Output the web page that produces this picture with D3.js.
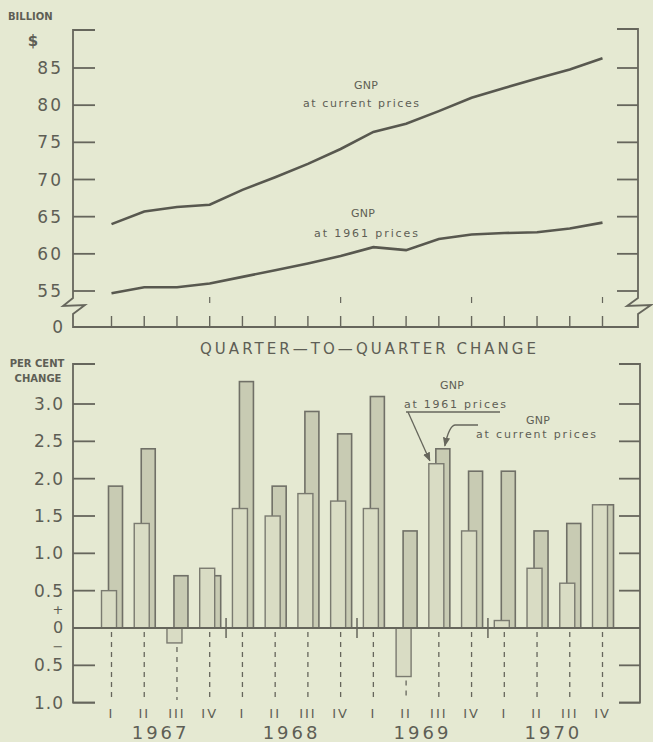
<!DOCTYPE html>
<html><head><meta charset="utf-8">
<script src="https://cdn.jsdelivr.net/npm/d3@7"></script>
<style>
html,body{margin:0;padding:0;background:#e5e9d2;}
svg{display:block;font-family:"DejaVu Sans",sans-serif;}
</style></head>
<body>
<script>
// ---- data ----
const quarterLabels = ["I","II","III","IV","I","II","III","IV","I","II","III","IV","I","II","III","IV"];
const years = ["1967","1968","1969","1970"];
const gnpCurrent = [64.0, 65.7, 66.3, 66.6, 68.6, 70.3, 72.1, 74.1, 76.4, 77.5, 79.2, 81.0, 82.3, 83.6, 84.8, 86.3];
const gnp1961    = [54.7, 55.5, 55.5, 56.0, 56.9, 57.8, 58.7, 59.7, 60.9, 60.5, 62.0, 62.6, 62.8, 62.9, 63.4, 64.2];
const pct1961    = [0.5, 1.4, -0.2, 0.8, 1.6, 1.5, 1.8, 1.7, 1.6, -0.65, 2.2, 1.3, 0.1, 0.8, 0.6, 1.65];
const pctCurrent = [1.9, 2.4, 0.7, 0.7, 3.3, 1.9, 2.9, 2.6, 3.1, 1.3, 2.4, 2.1, 2.1, 1.3, 1.4, 1.65];
const topTicks = [55, 60, 65, 70, 75, 80, 85];
const botTicksPos = [0.5, 1.0, 1.5, 2.0, 2.5, 3.0];
const botTicksNeg = [-0.5, -1.0];

const W = 653, H = 742;
const INK = "#66665c", TXT = "#5e5e55";
const svg = d3.select("body").append("svg").attr("width", W).attr("height", H);
svg.append("rect").attr("width", W).attr("height", H).attr("fill", "#e5e9d2");

const idx = d3.range(quarterLabels.length);
const x = d3.scaleLinear().domain([0, 15]).range([111.5, 602.5]);
const xL = 73, xR = 638;

// ================= TOP CHART =================
const yT = d3.scaleLinear().domain([55, 85]).range([291, 68]);
const topBase = 327;
const g1 = svg.append("g");
const ax = {stroke: INK, "stroke-width": 1.8, fill: "none"};
function P(sel, attrs){ for (const k in attrs) sel.attr(k, attrs[k]); return sel; }

// axes frame with break symbols
P(g1.append("path"), ax).attr("d",
  `M${xL+22},30 L${xL},30 L${xL},298 L${xL-10},306 L${xL+12},305 L${xL},314 L${xL},${topBase} L${xR},${topBase} L${xR},314 L${xR+13},305 L${xR-11},306 L${xR},298 L${xR},29 L${xR-21},29`);
topTicks.forEach(v => {
  P(g1.append("line"), ax).attr("x1", xL).attr("x2", xL+22).attr("y1", yT(v)).attr("y2", yT(v));
  P(g1.append("line"), ax).attr("x1", xR-21).attr("x2", xR).attr("y1", yT(v)).attr("y2", yT(v));
});
g1.selectAll("text.yt").data(topTicks).join("text")
  .attr("x", 63).attr("y", d => yT(d) + 6).attr("text-anchor", "end")
  .attr("font-size", 17).attr("letter-spacing", 2).attr("fill", TXT).text(d => d);
g1.append("text").attr("x", 63).attr("y", topBase + 6).attr("text-anchor","end")
  .attr("font-size", 17).attr("fill", TXT).text("0");
idx.forEach(i => {
  P(g1.append("line"), ax).attr("x1", x(i)).attr("x2", x(i)).attr("y1", topBase).attr("y2", topBase - 11).attr("stroke-width", 1.4);
});
[3, 7, 11, 15].forEach(i => {
  P(g1.append("line"), ax).attr("x1", x(i)).attr("x2", x(i)).attr("y1", 297).attr("y2", 303).attr("stroke-width", 1.2);
});
const line = d3.line().x((d, i) => x(i)).y(d => yT(d));
g1.append("path").attr("d", line(gnpCurrent)).attr("fill","none").attr("stroke","#58584f").attr("stroke-width", 2.6);
g1.append("path").attr("d", line(gnp1961)).attr("fill","none").attr("stroke","#58584f").attr("stroke-width", 2.6);
g1.append("text").attr("x", 8).attr("y", 20).attr("font-size", 10).attr("font-weight","bold").attr("fill", TXT).text("BILLION");
g1.append("text").attr("x", 33).attr("y", 46).attr("text-anchor","middle").attr("font-size", 15).attr("font-weight","bold").attr("fill", TXT).text("$");
function lab(g, t, cx, y, len, fs){
  g.append("text").attr("x", cx).attr("y", y).attr("text-anchor","middle").attr("font-size", fs||11)
   .attr("fill", TXT).attr("textLength", len).attr("lengthAdjust","spacing").text(t);
}
lab(g1, "GNP", 366, 89, 24);
lab(g1, "at current prices", 361, 107, 116);
lab(g1, "GNP", 363, 217, 24);
lab(g1, "at 1961 prices", 366, 237, 104);

// ================= BOTTOM CHART =================
const g2 = svg.append("g");
const yB = d3.scaleLinear().domain([0, 3]).range([628, 404]);
const bTop = 364, bBot = yB(-1.0);
g2.append("text").attr("x", 368).attr("y", 354).attr("text-anchor","middle").attr("font-size", 15)
  .attr("fill", TXT).attr("textLength", 336).attr("lengthAdjust","spacing").text("QUARTER\u2014TO\u2014QUARTER CHANGE");
g2.append("text").attr("x", 37).attr("y", 367).attr("text-anchor","middle").attr("font-size", 10).attr("font-weight","bold").attr("fill", TXT).text("PER CENT");
g2.append("text").attr("x", 38).attr("y", 382).attr("text-anchor","middle").attr("font-size", 10).attr("font-weight","bold").attr("fill", TXT).text("CHANGE");

// bars (current prices behind, 1961 prices in front)
g2.selectAll("rect.cur").data(pctCurrent).join("rect")
  .attr("x", (d, i) => x(i) - 3).attr("width", 14)
  .attr("y", d => yB(Math.max(0, d))).attr("height", d => Math.abs(yB(d) - yB(0)))
  .attr("fill", "#c8cbb3").attr("stroke", "#707067").attr("stroke-width", 1.6);
g2.selectAll("rect.r61").data(pct1961).join("rect")
  .attr("x", (d, i) => x(i) - 10).attr("width", 15)
  .attr("y", d => yB(Math.max(0, d))).attr("height", d => Math.abs(yB(d) - yB(0)))
  .attr("fill", "#d9dcc4").attr("stroke", "#7a7a70").attr("stroke-width", 1.4);

P(g2.append("path"), ax).attr("d", `M${xL+22},${bTop} L${xL},${bTop} L${xL},${bBot} L${xL+22},${bBot}`);
P(g2.append("path"), ax).attr("d", `M${xR-19},${bTop} L${xR+2},${bTop} L${xR+2},${bBot} L${xR-19},${bBot}`);
P(g2.append("line"), ax).attr("x1", xL).attr("x2", xR+2).attr("y1", yB(0)).attr("y2", yB(0));
botTicksPos.concat(botTicksNeg).forEach(v => {
  P(g2.append("line"), ax).attr("x1", xL).attr("x2", xL+22).attr("y1", yB(v)).attr("y2", yB(v));
  P(g2.append("line"), ax).attr("x1", xR-19).attr("x2", xR+2).attr("y1", yB(v)).attr("y2", yB(v));
});
const fmt = d3.format(".1f");
g2.selectAll("text.yb").data(botTicksPos.concat(botTicksNeg)).join("text")
  .attr("x", 64).attr("y", d => yB(d) + 6).attr("text-anchor","end")
  .attr("font-size", 17).attr("letter-spacing", 1).attr("fill", TXT).text(d => fmt(Math.abs(d)));
g2.append("text").attr("x", 58).attr("y", 633).attr("text-anchor","middle").attr("font-size", 16).attr("fill", TXT).text("0");
g2.append("text").attr("x", 58).attr("y", 614).attr("text-anchor","middle").attr("font-size", 13).attr("fill", TXT).text("+");
g2.append("text").attr("x", 58).attr("y", 651).attr("text-anchor","middle").attr("font-size", 13).attr("fill", TXT).text("\u2212");

[3, 7, 11].forEach(i => {
  const xm = (x(i) + x(i + 1)) / 2;
  P(g2.append("line"), ax).attr("x1", xm).attr("x2", xm).attr("y1", yB(0) - 10).attr("y2", yB(0) + 10).attr("stroke-width", 1.5);
});
idx.forEach(i => {
  g2.append("line").attr("x1", x(i)).attr("x2", x(i))
    .attr("y1", yB(Math.min(0, pct1961[i])) + 4).attr("y2", 700)
    .attr("stroke", INK).attr("stroke-width", 1.3).attr("stroke-dasharray", "5,5");
});
g2.selectAll("text.q").data(quarterLabels).join("text")
  .attr("x", (d, i) => x(i)).attr("y", 718).attr("text-anchor","middle")
  .attr("font-size", 13).attr("letter-spacing", 2).attr("fill", TXT).text(d => d);
g2.selectAll("text.yr").data(years).join("text")
  .attr("x", (d, j) => (x(j*4+1) + x(j*4+2)) / 2).attr("y", 739).attr("text-anchor","middle")
  .attr("font-size", 18).attr("letter-spacing", 3).attr("fill", TXT).text(d => d);

lab(g2, "GNP", 452, 389, 24);
lab(g2, "at 1961 prices", 455, 408, 102);
g2.append("line").attr("x1", 406).attr("x2", 500).attr("y1", 412).attr("y2", 412).attr("stroke", INK).attr("stroke-width", 1.3);
lab(g2, "GNP", 538, 424, 24);
lab(g2, "at current prices", 536, 438, 120);
const defs = svg.append("defs");
defs.append("marker").attr("id","ah").attr("viewBox","0 0 10 10").attr("refX",9).attr("refY",5)
  .attr("markerWidth",7).attr("markerHeight",7).attr("orient","auto-start-reverse")
  .append("path").attr("d","M0,1 L10,5 L0,9 z").attr("fill", INK);
g2.append("path").attr("d", `M408,412 L${x(10)-9},${yB(pct1961[10]) - 3}`)
  .attr("fill","none").attr("stroke", INK).attr("stroke-width", 1.3).attr("marker-end","url(#ah)");
g2.append("path").attr("d", `M478,425 L455,425 Q449,426 ${x(10)+6},${yB(pctCurrent[10]) - 3}`)
  .attr("fill","none").attr("stroke", INK).attr("stroke-width", 1.3).attr("marker-end","url(#ah)");
</script>
</body></html>
